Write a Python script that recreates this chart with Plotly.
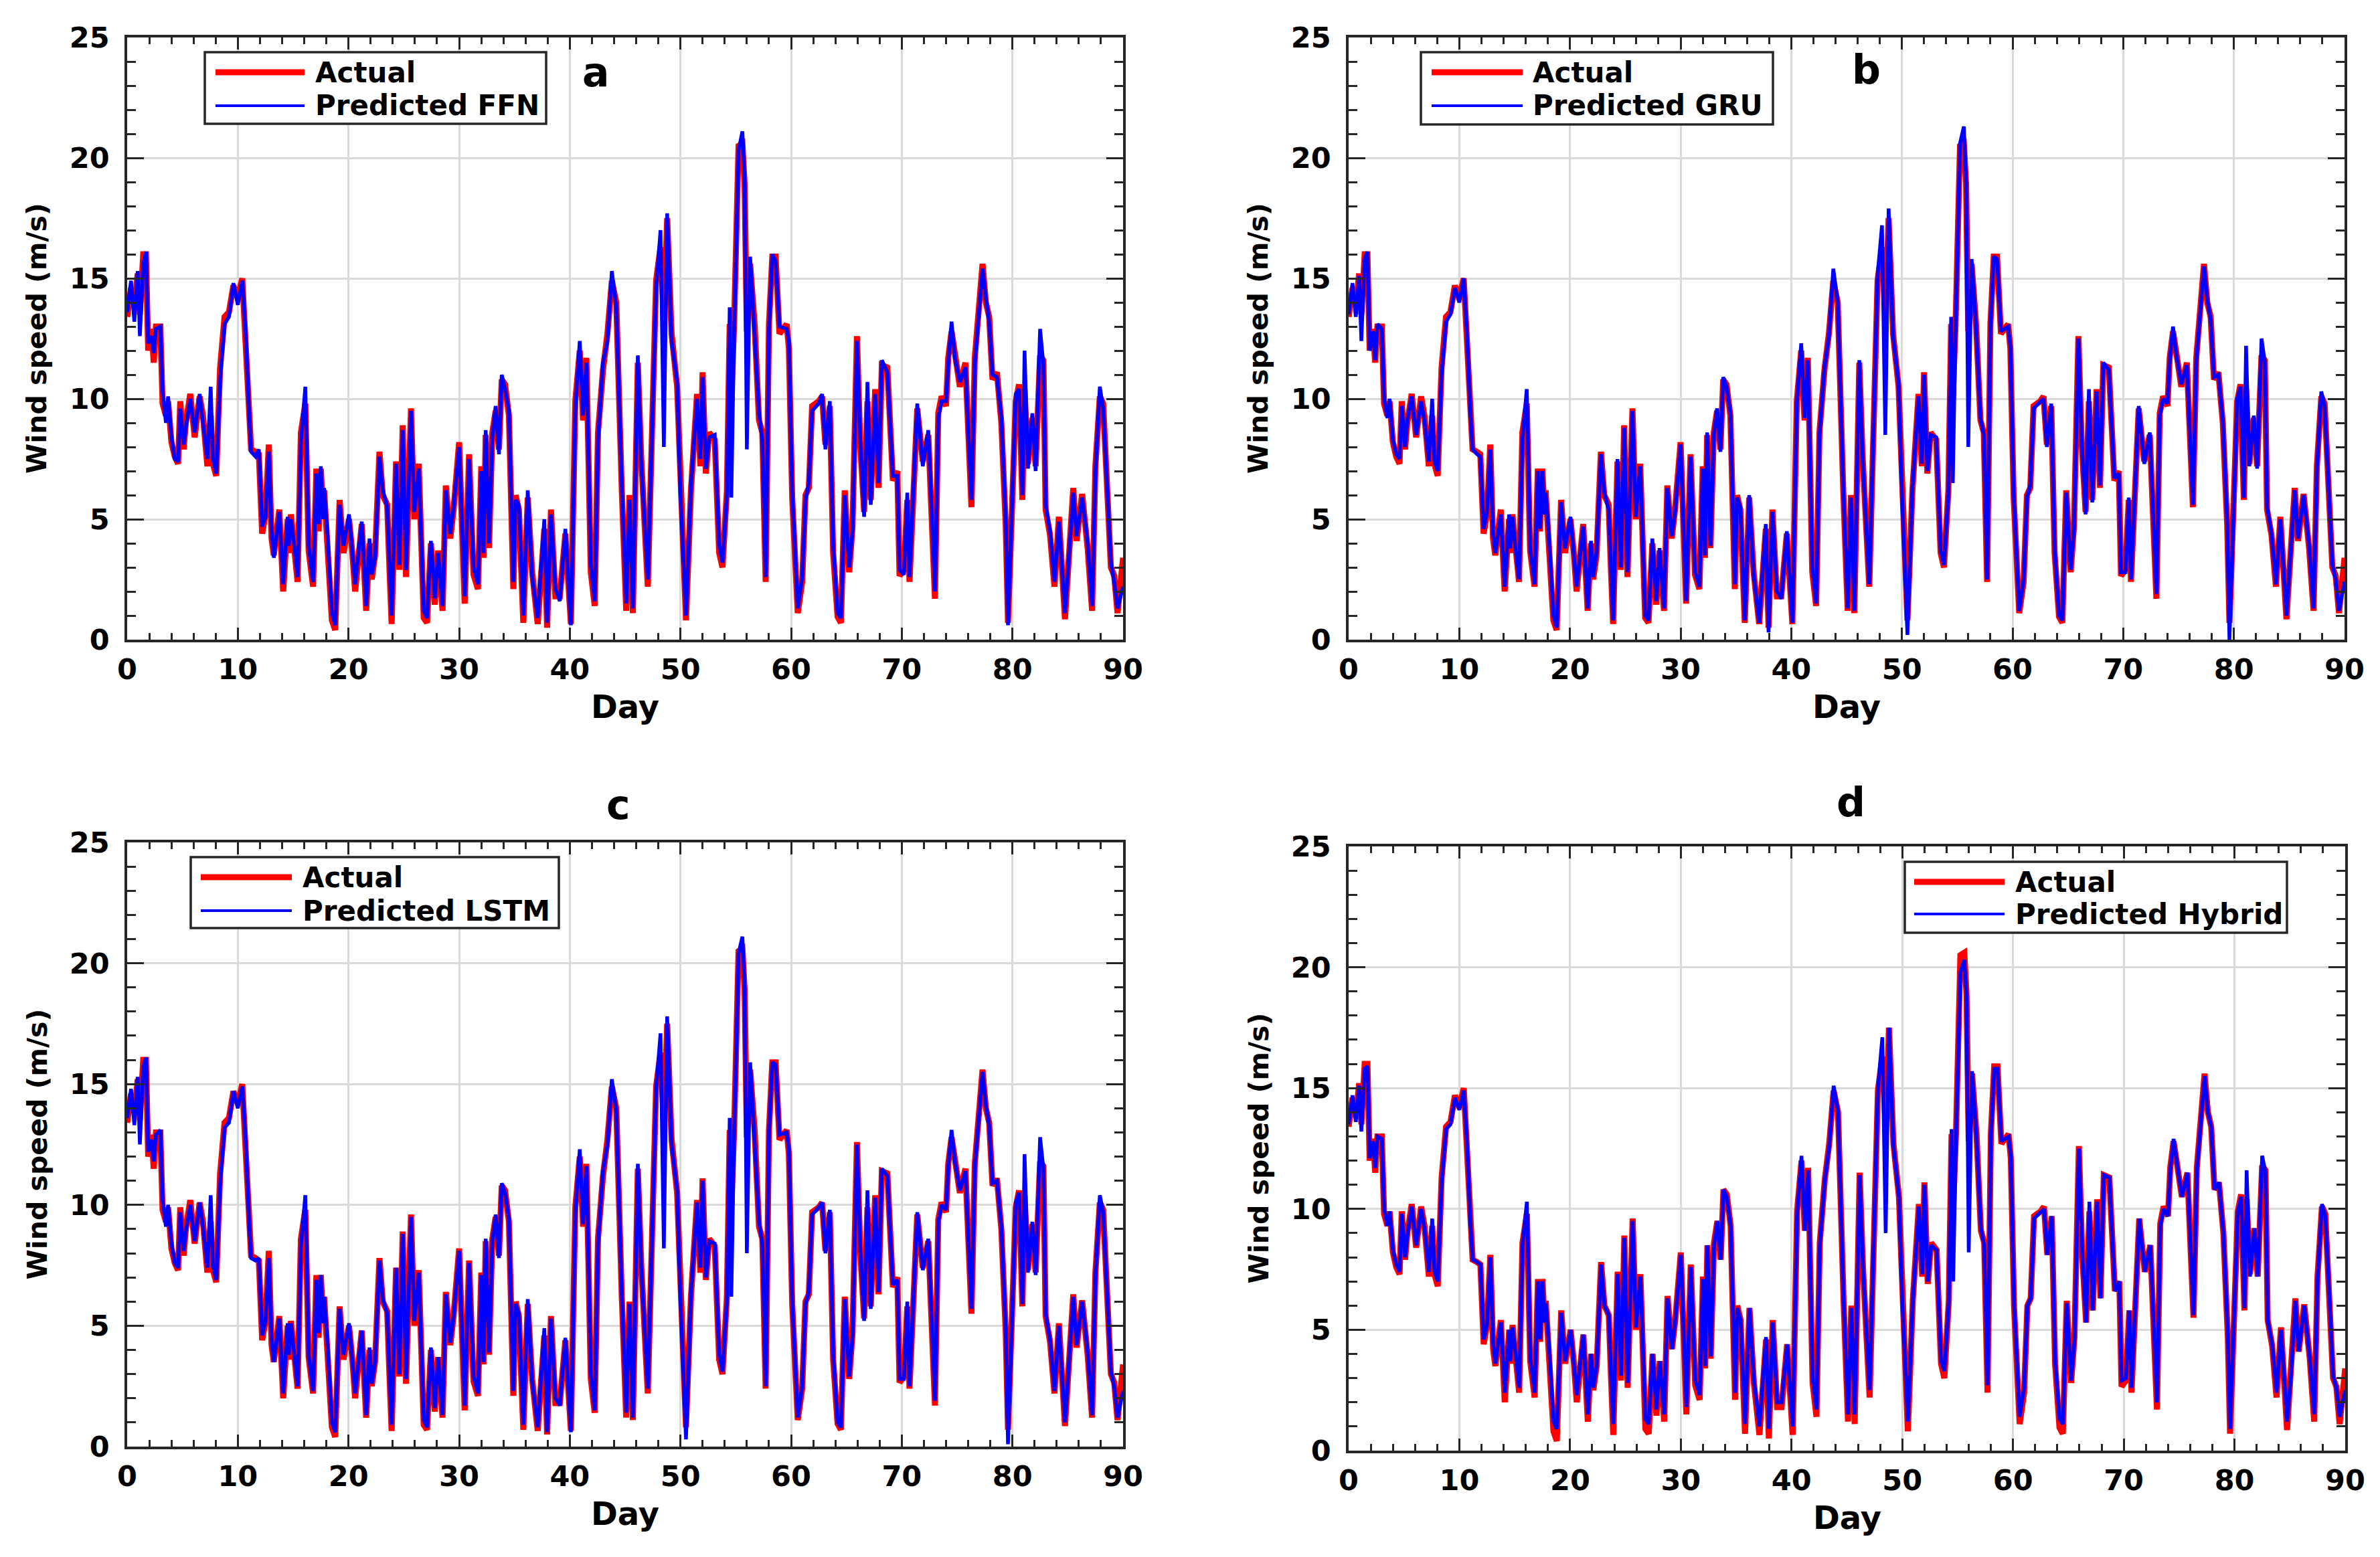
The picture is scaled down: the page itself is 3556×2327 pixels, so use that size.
"""
Wind speed: actual vs. predicted (FFN, GRU, LSTM, Hybrid), 90 days.
Four MATLAB-style panels, drawn with Plotly and saved to out.html.
"""

import plotly.graph_objects as go

# --- data --------------------------------------------------------------------

day = [
    0.0, 0.35, 0.65, 0.95, 1.15, 1.45, 1.7, 1.9, 2.2, 2.4,
    2.6, 3.0, 3.2, 3.5, 3.7, 4.0, 4.3, 4.6, 4.8, 5.1,
    5.3, 5.7, 6.1, 6.55, 6.85, 7.25, 7.55, 7.75, 8.05, 8.4,
    8.8, 9.2, 9.6, 10.0, 10.4, 10.7, 11.0, 11.2, 11.6, 11.9,
    12.2, 12.5, 12.8, 13.05, 13.25, 13.75, 14.1, 14.5, 14.6, 14.8,
    15.1, 15.4, 15.7, 16.1, 16.4, 16.8, 17.1, 17.3, 17.5, 17.7,
    17.8, 18.1, 18.5, 18.8, 19.2, 19.55, 20.05, 20.35, 20.6, 21.2,
    21.4, 21.6, 21.9, 22.1, 22.4, 22.8, 23.1, 23.5, 23.7, 23.9,
    24.3, 24.6, 24.9, 25.2, 25.65, 25.95, 26.35, 26.8, 27.1, 27.45,
    27.8, 28.1, 28.5, 28.8, 29.2, 29.5, 30.0, 30.5, 30.9, 31.3,
    31.7, 32.0, 32.2, 32.4, 32.7, 33.0, 33.3, 33.6, 33.85, 34.15,
    34.5, 34.9, 35.1, 35.4, 35.8, 36.2, 36.6, 37.1, 37.7, 37.95,
    38.3, 38.7, 39.1, 39.6, 40.1, 40.5, 40.9, 41.2, 41.5, 41.9,
    42.25, 42.55, 43.0, 43.4, 43.8, 44.2, 44.7, 45.1, 45.4, 45.7,
    46.15, 46.45, 47.05, 47.4, 47.8, 48.2, 48.5, 48.8, 49.2, 49.7,
    50.0, 50.5, 50.95, 51.5, 51.8, 52.0, 52.3, 52.6, 53.1, 53.5,
    53.8, 54.2, 54.45, 54.6, 54.85, 55.25, 55.6, 55.8, 56.0, 56.3,
    56.7, 57.1, 57.4, 57.7, 58.0, 58.3, 58.6, 58.95, 59.6, 59.8,
    60.1, 60.6, 61.0, 61.3, 61.6, 61.9, 62.5, 62.8, 63.1, 63.5,
    63.8, 64.2, 64.5, 64.85, 65.25, 65.55, 65.95, 66.25, 66.6, 66.9,
    67.2, 67.6, 67.9, 68.2, 68.7, 69.2, 69.6, 69.8, 70.2, 70.5,
    70.7, 71.0, 71.4, 71.9, 72.4, 73.0, 73.3, 73.6, 74.0, 74.2,
    74.5, 74.8, 75.25, 75.75, 76.3, 76.6, 77.0, 77.3, 77.6, 77.9,
    78.2, 78.6, 79.0, 79.4, 79.6, 79.9, 80.3, 80.6, 80.9, 81.1,
    81.4, 81.8, 82.1, 82.5, 82.8, 83.0, 83.4, 83.8, 84.2, 84.75,
    85.1, 85.5, 85.8, 86.3, 86.8, 87.2, 87.5, 87.9, 88.2, 88.6,
    88.9, 89.2, 89.5, 90.0,
]

actual = [
    13.4, 14.6, 13.8, 15.2, 13.5, 16.0, 16.0, 12.0, 12.9, 11.5,
    13.0, 13.0, 9.8, 9.3, 9.9, 8.2, 7.6, 7.3, 9.9, 7.9,
    9.0, 10.2, 8.4, 10.1, 9.3, 7.2, 9.3, 7.3, 6.8, 11.3,
    13.4, 13.6, 14.7, 14.2, 15.0, 12.5, 9.3, 7.9, 7.8, 7.7,
    4.4, 5.2, 8.1, 4.2, 3.5, 5.4, 2.0, 5.0, 3.6, 5.2,
    3.8, 2.4, 8.6, 9.8, 3.7, 2.2, 7.1, 4.5, 7.1, 5.3,
    6.2, 4.2, 0.8, 0.4, 5.8, 3.6, 5.0, 3.6, 2.0, 4.8,
    3.0, 1.2, 4.0, 2.5, 3.5, 7.8, 6.0, 5.6, 3.0, 0.65,
    7.4, 2.9, 8.9, 2.6, 9.6, 5.0, 7.3, 0.9, 0.7, 4.0,
    1.45, 3.7, 1.2, 6.4, 4.2, 5.4, 8.2, 1.5, 7.7, 2.7,
    2.1, 7.2, 3.4, 8.5, 3.8, 8.6, 9.5, 7.9, 10.8, 10.6,
    9.3, 2.1, 6.0, 5.4, 0.7, 5.9, 2.8, 0.65, 4.6, 0.5,
    5.4, 1.8, 1.8, 4.4, 0.65, 9.9, 12.0, 9.1, 11.7, 2.8,
    1.4, 8.6, 11.2, 12.7, 14.9, 14.0, 6.2, 1.2, 6.0, 1.1,
    11.5, 7.6, 2.2, 8.6, 14.9, 16.3, 13.4, 17.5, 12.7, 10.5,
    6.2, 0.8, 6.2, 10.2, 7.2, 11.1, 6.9, 8.6, 8.3, 3.6,
    3.0, 6.2, 13.1, 10.0, 13.1, 20.5, 20.6, 18.9, 12.8, 15.6,
    13.1, 9.1, 8.6, 2.4, 13.1, 15.9, 15.9, 12.7, 13.1, 12.1,
    5.9, 1.1, 2.4, 6.0, 6.3, 9.7, 9.9, 10.1, 8.1, 9.7,
    3.6, 0.95, 0.7, 6.2, 2.8, 4.7, 12.6, 8.1, 5.3, 9.9,
    5.8, 10.4, 6.3, 11.4, 11.3, 6.6, 7.0, 2.65, 2.9, 5.8,
    2.4, 5.7, 9.6, 7.4, 8.5, 1.7, 9.4, 10.1, 9.7, 11.7,
    12.8, 11.9, 10.5, 11.5, 5.5, 11.7, 13.7, 15.6, 14.0, 13.4,
    10.8, 11.1, 9.0, 4.7, 0.7, 4.7, 9.9, 10.6, 5.8, 10.4,
    7.3, 9.2, 7.2, 11.8, 11.6, 5.4, 4.35, 2.2, 5.1, 0.85,
    3.1, 6.3, 4.1, 6.05, 3.8, 1.2, 7.2, 10.1, 9.8, 6.05,
    3.0, 2.65, 1.1, 3.4,
]

pred_ffn = [
    13.6, 14.9, 13.2, 15.3, 12.6, 15.6, 16.1, 12.3, 12.6, 11.9,
    12.9, 13.0, 10.3, 9.0, 10.1, 8.4, 7.5, 7.4, 9.6, 8.1,
    8.8, 10.0, 8.6, 10.2, 9.0, 7.5, 10.5, 7.5, 6.9, 10.8,
    13.1, 13.4, 14.8, 13.9, 14.9, 12.8, 9.6, 7.8, 7.6, 7.9,
    4.7, 5.1, 7.8, 4.5, 3.4, 5.3, 2.3, 5.1, 3.9, 5.0,
    3.9, 2.6, 8.2, 10.5, 3.9, 2.4, 6.9, 4.8, 7.2, 5.0,
    6.3, 4.4, 1.1, 0.6, 5.6, 3.9, 5.2, 3.5, 2.3, 4.9,
    3.2, 1.4, 4.2, 2.7, 3.4, 7.6, 6.2, 5.5, 3.2, 1.0,
    7.3, 3.1, 8.7, 2.9, 9.5, 5.3, 7.1, 1.2, 0.9, 4.1,
    1.7, 3.6, 1.4, 6.2, 4.4, 5.5, 8.0, 1.8, 7.5, 3.0,
    2.3, 7.0, 3.6, 8.7, 4.0, 8.4, 9.7, 7.7, 11.0, 10.4,
    9.5, 2.4, 5.8, 5.6, 1.0, 6.2, 2.6, 0.9, 5.0, 0.7,
    5.2, 2.1, 1.6, 4.6, 0.6, 9.6, 12.4, 9.3, 11.5, 3.1,
    1.6, 8.3, 11.5, 12.4, 15.3, 13.8, 6.4, 1.5, 5.8, 1.3,
    11.8, 7.4, 2.5, 8.8, 14.6, 17.0, 8.0, 17.7, 12.4, 10.7,
    6.0, 1.0, 6.4, 10.0, 7.5, 10.9, 7.1, 8.4, 8.5, 3.9,
    3.2, 6.0, 13.8, 5.9, 12.8, 20.3, 21.1, 19.1, 7.9, 15.9,
    12.8, 9.4, 8.3, 2.6, 12.9, 16.0, 15.7, 13.0, 12.9, 12.4,
    6.1, 1.3, 2.6, 5.8, 6.5, 9.5, 9.8, 10.2, 7.9, 9.9,
    3.9, 1.1, 0.9, 6.0, 3.0, 4.5, 12.4, 8.3, 5.1, 10.7,
    5.6, 10.2, 6.5, 11.6, 11.1, 6.8, 6.8, 2.9, 2.7, 6.1,
    2.6, 5.5, 9.8, 7.2, 8.7, 2.0, 9.2, 9.9, 9.9, 11.5,
    13.2, 11.7, 10.7, 11.3, 5.8, 11.5, 13.9, 15.4, 14.2, 13.2,
    11.0, 10.9, 9.2, 4.9, 0.6, 4.5, 10.2, 10.4, 6.0, 12.0,
    7.1, 9.4, 7.0, 12.9, 11.4, 5.6, 4.5, 2.4, 4.9, 1.1,
    3.3, 6.1, 4.3, 5.9, 4.0, 1.4, 7.0, 10.5, 9.6, 6.3,
    3.2, 2.4, 1.3, 2.2,
]

pred_gru = [
    13.5, 14.8, 13.4, 15.1, 12.4, 15.8, 16.1, 12.0, 12.8, 11.6,
    13.1, 12.9, 10.0, 9.2, 10.0, 8.3, 7.7, 7.5, 9.7, 8.0,
    9.1, 10.1, 8.5, 9.9, 9.1, 7.4, 10.0, 7.4, 7.0, 11.0,
    13.2, 13.5, 14.6, 14.0, 15.0, 12.6, 9.5, 7.9, 7.7, 7.6,
    4.6, 5.3, 7.9, 4.4, 3.6, 5.2, 2.2, 5.2, 3.8, 5.1,
    3.7, 2.5, 8.3, 10.4, 3.8, 2.3, 7.0, 4.6, 7.0, 5.2,
    6.1, 4.3, 1.0, 0.5, 5.7, 3.8, 5.1, 3.7, 2.2, 4.7,
    3.1, 1.3, 4.1, 2.6, 3.6, 7.7, 6.1, 5.4, 3.1, 0.8,
    7.5, 3.0, 8.8, 2.8, 9.5, 5.1, 7.2, 1.0, 0.8, 4.2,
    1.6, 3.8, 1.3, 6.3, 4.3, 5.3, 8.1, 1.6, 7.6, 2.8,
    2.2, 7.1, 3.5, 8.6, 3.9, 8.5, 9.6, 7.8, 10.9, 10.5,
    9.4, 2.3, 5.9, 5.5, 0.8, 6.0, 2.7, 0.7, 4.8, 0.3,
    5.3, 2.0, 1.7, 4.5, 0.7, 9.8, 12.3, 9.2, 11.6, 3.0,
    1.5, 8.5, 11.3, 12.6, 15.4, 14.0, 6.3, 1.3, 5.9, 1.2,
    11.6, 7.5, 2.3, 8.7, 15.1, 17.2, 8.5, 17.9, 12.6, 10.6,
    6.1, 0.2, 6.3, 10.1, 7.3, 11.0, 7.0, 8.5, 8.4, 3.7,
    3.1, 6.1, 13.4, 6.5, 13.0, 20.6, 21.3, 19.0, 8.0, 15.8,
    13.0, 9.2, 8.5, 2.5, 13.0, 15.9, 15.8, 12.8, 13.0, 12.2,
    6.0, 1.2, 2.5, 5.9, 6.4, 9.6, 9.9, 10.0, 8.0, 9.8,
    3.7, 1.0, 0.8, 6.1, 2.9, 4.6, 12.5, 8.2, 5.2, 10.4,
    5.7, 10.3, 6.4, 11.5, 11.2, 6.7, 6.9, 2.8, 2.8, 5.9,
    2.5, 5.6, 9.7, 7.3, 8.6, 1.9, 9.3, 10.0, 9.8, 11.6,
    13.0, 11.8, 10.6, 11.4, 5.6, 11.6, 13.8, 15.5, 14.1, 13.3,
    10.9, 11.0, 9.1, 4.8, 0.0, 4.6, 10.0, 10.5, 5.9, 12.2,
    7.2, 9.3, 7.1, 12.5, 11.5, 5.5, 4.4, 2.3, 5.0, 1.0,
    3.2, 6.2, 4.2, 6.0, 3.9, 1.3, 7.1, 10.3, 9.7, 6.2,
    3.1, 2.5, 1.2, 2.4,
]

pred_lstm = [
    13.6, 14.8, 13.3, 15.3, 12.5, 15.7, 16.1, 12.2, 12.7, 11.8,
    12.9, 13.1, 10.2, 9.1, 10.0, 8.4, 7.6, 7.4, 9.7, 8.1,
    8.9, 10.0, 8.5, 10.1, 9.1, 7.4, 10.4, 7.5, 6.9, 10.9,
    13.2, 13.4, 14.7, 14.0, 14.9, 12.7, 9.5, 7.8, 7.7, 7.8,
    4.6, 5.2, 7.8, 4.4, 3.5, 5.3, 2.2, 5.1, 3.8, 5.1,
    3.8, 2.5, 8.3, 10.4, 3.8, 2.3, 6.9, 4.7, 7.1, 5.1,
    6.2, 4.3, 1.0, 0.6, 5.7, 3.8, 5.1, 3.6, 2.2, 4.8,
    3.1, 1.3, 4.1, 2.6, 3.5, 7.7, 6.1, 5.5, 3.1, 0.9,
    7.4, 3.0, 8.8, 2.8, 9.5, 5.2, 7.2, 1.1, 0.8, 4.1,
    1.6, 3.7, 1.3, 6.3, 4.3, 5.4, 8.1, 1.7, 7.6, 2.9,
    2.2, 7.1, 3.5, 8.6, 3.9, 8.5, 9.6, 7.8, 10.9, 10.5,
    9.4, 2.3, 5.9, 5.5, 0.9, 6.1, 2.7, 0.8, 4.9, 0.6,
    5.3, 2.0, 1.7, 4.5, 0.6, 9.7, 12.3, 9.2, 11.6, 3.0,
    1.5, 8.4, 11.4, 12.5, 15.2, 13.9, 6.3, 1.4, 5.9, 1.2,
    11.7, 7.5, 2.4, 8.7, 14.8, 17.1, 8.2, 17.8, 12.5, 10.6,
    6.1, 0.3, 6.3, 10.1, 7.4, 11.0, 7.0, 8.5, 8.4, 3.8,
    3.1, 6.1, 13.6, 6.2, 12.9, 20.4, 21.1, 19.0, 8.0, 15.9,
    12.9, 9.3, 8.4, 2.5, 13.0, 15.9, 15.8, 12.9, 13.0, 12.3,
    6.0, 1.2, 2.5, 5.9, 6.4, 9.6, 9.9, 10.1, 8.0, 9.8,
    3.8, 1.0, 0.8, 6.1, 2.9, 4.6, 12.5, 8.2, 5.2, 10.6,
    5.7, 10.3, 6.4, 11.5, 11.2, 6.7, 6.9, 2.8, 2.8, 6.0,
    2.5, 5.6, 9.7, 7.3, 8.6, 1.9, 9.3, 10.0, 9.8, 11.6,
    13.1, 11.8, 10.6, 11.4, 5.7, 11.6, 13.8, 15.5, 14.1, 13.3,
    10.9, 11.0, 9.1, 4.8, 0.1, 4.6, 10.1, 10.5, 5.9, 12.1,
    7.2, 9.3, 7.1, 12.8, 11.5, 5.5, 4.4, 2.3, 5.0, 1.0,
    3.2, 6.2, 4.2, 6.0, 3.9, 1.3, 7.1, 10.4, 9.7, 6.2,
    3.1, 2.5, 1.2, 2.3,
]

pred_hybrid = [
    13.5, 14.7, 13.6, 15.1, 13.2, 15.8, 15.9, 12.1, 12.8, 11.7,
    13.0, 12.9, 10.0, 9.3, 9.9, 8.3, 7.7, 7.4, 9.8, 8.0,
    8.9, 10.1, 8.5, 10.0, 9.2, 7.4, 9.6, 7.4, 7.0, 11.1,
    13.3, 13.5, 14.6, 14.1, 14.9, 12.6, 9.4, 7.9, 7.8, 7.7,
    4.6, 5.2, 8.0, 4.4, 3.6, 5.3, 2.4, 5.0, 3.7, 5.1,
    3.9, 2.6, 8.5, 10.3, 3.8, 2.4, 7.0, 4.6, 7.0, 5.3,
    6.1, 4.3, 1.2, 0.9, 5.7, 3.7, 5.0, 3.7, 2.3, 4.8,
    3.1, 1.5, 4.0, 2.6, 3.5, 7.7, 6.0, 5.6, 3.1, 1.1,
    7.3, 3.1, 8.8, 2.8, 9.5, 5.1, 7.2, 1.3, 1.1, 4.0,
    1.7, 3.7, 1.5, 6.3, 4.2, 5.4, 8.1, 1.8, 7.6, 2.9,
    2.3, 7.1, 3.5, 8.5, 3.9, 8.5, 9.5, 7.9, 10.8, 10.5,
    9.3, 2.4, 5.9, 5.4, 1.1, 5.9, 2.9, 1.0, 4.7, 0.9,
    5.3, 2.0, 2.0, 4.4, 1.0, 9.8, 12.2, 9.1, 11.6, 3.0,
    1.7, 8.5, 11.2, 12.6, 15.1, 14.0, 6.2, 1.5, 5.9, 1.5,
    11.4, 7.6, 2.5, 8.6, 15.0, 17.1, 9.0, 17.5, 12.6, 10.5,
    6.2, 1.2, 6.2, 10.1, 7.3, 11.0, 7.0, 8.5, 8.3, 3.7,
    3.3, 6.2, 13.3, 7.0, 13.0, 19.8, 20.3, 18.8, 8.2, 15.7,
    13.0, 9.2, 8.5, 2.7, 13.0, 15.8, 15.8, 12.8, 13.0, 12.2,
    6.0, 1.4, 2.6, 6.0, 6.3, 9.6, 9.9, 10.0, 8.1, 9.7,
    3.7, 1.3, 1.1, 6.1, 2.9, 4.6, 12.5, 8.2, 5.3, 10.3,
    5.8, 10.3, 6.3, 11.4, 11.3, 6.6, 7.0, 2.9, 3.0, 5.8,
    2.6, 5.6, 9.6, 7.4, 8.5, 2.0, 9.3, 10.0, 9.7, 11.6,
    12.9, 11.9, 10.5, 11.5, 5.6, 11.6, 13.7, 15.5, 14.0, 13.4,
    10.8, 11.1, 9.0, 4.8, 0.9, 4.6, 9.9, 10.5, 5.9, 11.6,
    7.2, 9.2, 7.2, 12.2, 11.5, 5.4, 4.4, 2.4, 5.0, 1.2,
    3.1, 6.2, 4.1, 6.0, 3.8, 1.5, 7.1, 10.2, 9.7, 6.1,
    3.1, 2.6, 1.4, 2.5,
]

model_names = ["FFN", "GRU", "LSTM", "Hybrid"]
predictions = [pred_ffn, pred_gru, pred_lstm, pred_hybrid]
panel_letters = ["a", "b", "c", "d"]
x_ticks = [0, 10, 20, 30, 40, 50, 60, 70, 80, 90]
y_ticks = [0, 5, 10, 15, 20, 25]

for p in predictions:
    assert len(p) == len(day) == len(actual)

# --- layout constants (pixels of the 3556 x 2327 page) -----------------------

W, H = 3556, 2327
FONT = "DejaVu Sans"
AXIS_COLOR = "#262626"
GRID_COLOR = "#dadada"

# plot area of each panel: left, top, right, bottom
panel_box = [
    (182, 48, 1670, 948),
    (2007, 48, 3495, 948),
    (182, 1251, 1670, 2154),
    (2007, 1257, 3496, 2160),
]

# legend box: left, top, right, bottom, line start, line end, text x, row1 y, row2 y
legend_box = [
    (298, 70, 808, 177, 314, 447, 461, 100, 150),
    (2115, 70, 2641, 178, 2131, 2267, 2280, 100, 150),
    (277, 1273, 827, 1379, 292, 428, 442, 1303, 1353),
    (2838, 1280, 3409, 1386, 2852, 2987, 3001, 1310, 1358),
]

# panel letter positions (centre)
letter_pos = [(882, 100), (2780, 96), (916, 1195), (2757, 1191)]


def px(x):
    """pixel x -> paper fraction"""
    return x / W


def py(y):
    """pixel y (from top) -> paper fraction"""
    return 1 - y / H


def bold(size):
    return dict(family=FONT, size=size, color="black", weight="bold")


fig = go.Figure()

for i, (model, pred) in enumerate(zip(model_names, predictions)):
    n = "" if i == 0 else str(i + 1)
    fig.add_trace(go.Scatter(
        x=day, y=actual, mode="lines", name="Actual",
        line=dict(color="#ff0000", width=9),
        xaxis="x" + n, yaxis="y" + n, showlegend=False,
    ))
    fig.add_trace(go.Scatter(
        x=day, y=pred, mode="lines", name="Predicted " + model,
        line=dict(color="#0000ff", width=5.5),
        xaxis="x" + n, yaxis="y" + n, showlegend=False,
    ))

shapes = []
annotations = []

for i, (l, t, r, b) in enumerate(panel_box):
    n = "" if i == 0 else str(i + 1)
    common = dict(
        showline=True, linewidth=3.5, linecolor=AXIS_COLOR, mirror="ticks",
        ticks="inside", tickwidth=3, tickcolor=AXIS_COLOR,
        showgrid=True, gridcolor=GRID_COLOR, gridwidth=2.5,
        zeroline=False, tickfont=bold(43), fixedrange=True,
        automargin=False,
    )
    fig.layout["xaxis" + n] = dict(
        common,
        domain=[px(l), px(r)], anchor="y" + n,
        range=[0, 90], tickvals=x_ticks, ticklen=18, ticklabelstandoff=4,
        minor=dict(dtick=2, ticks="inside", ticklen=10, tickwidth=3,
                   tickcolor=AXIS_COLOR, showgrid=False),
    )
    fig.layout["yaxis" + n] = dict(
        common,
        domain=[py(b), py(t)], anchor="x" + n,
        range=[0, 25], tickvals=y_ticks, ticklen=25, ticklabelstandoff=14,
        minor=dict(dtick=1, ticks="inside", ticklen=13, tickwidth=3,
                   tickcolor=AXIS_COLOR, showgrid=False),
    )

    # axis titles
    annotations.append(dict(
        text="Day", x=px((l + r) / 2), y=py(b + 100), xref="paper", yref="paper",
        showarrow=False, font=bold(48), xanchor="center", yanchor="middle",
    ))
    annotations.append(dict(
        text="Wind speed (m/s)", x=px(l - 135), y=py((t + b) / 2),
        xref="paper", yref="paper", textangle=-90,
        showarrow=False, font=bold(41), xanchor="center", yanchor="middle",
    ))

    # panel letter
    lx, ly = letter_pos[i]
    annotations.append(dict(
        text=panel_letters[i], x=px(lx), y=py(ly), xref="paper", yref="paper",
        showarrow=False, font=bold(60), xanchor="center", yanchor="middle",
    ))

    # hand drawn legend (MATLAB style, long line samples)
    bl, bt, br, bb, x0, x1, tx, r1, r2 = legend_box[i]
    shapes.append(dict(
        type="rect", xref="paper", yref="paper", layer="above",
        x0=px(bl), x1=px(br), y0=py(bb), y1=py(bt),
        line=dict(color=AXIS_COLOR, width=3.5), fillcolor="white",
    ))
    shapes.append(dict(
        type="line", xref="paper", yref="paper", layer="above",
        x0=px(x0), x1=px(x1), y0=py(r1), y1=py(r1),
        line=dict(color="#ff0000", width=9),
    ))
    shapes.append(dict(
        type="line", xref="paper", yref="paper", layer="above",
        x0=px(x0), x1=px(x1), y0=py(r2), y1=py(r2),
        line=dict(color="#0000ff", width=4),
    ))
    annotations.append(dict(
        text="Actual", x=px(tx), y=py(r1), xref="paper", yref="paper",
        showarrow=False, font=bold(42), xanchor="left", yanchor="middle",
    ))
    annotations.append(dict(
        text="Predicted " + model_names[i], x=px(tx), y=py(r2),
        xref="paper", yref="paper",
        showarrow=False, font=bold(42), xanchor="left", yanchor="middle",
    ))

fig.update_layout(
    width=W, height=H, autosize=False,
    margin=dict(l=0, r=0, t=0, b=0),
    paper_bgcolor="white", plot_bgcolor="white",
    shapes=shapes, annotations=annotations,
    showlegend=False,
)

fig.write_html("out.html", config={"displayModeBar": False})
